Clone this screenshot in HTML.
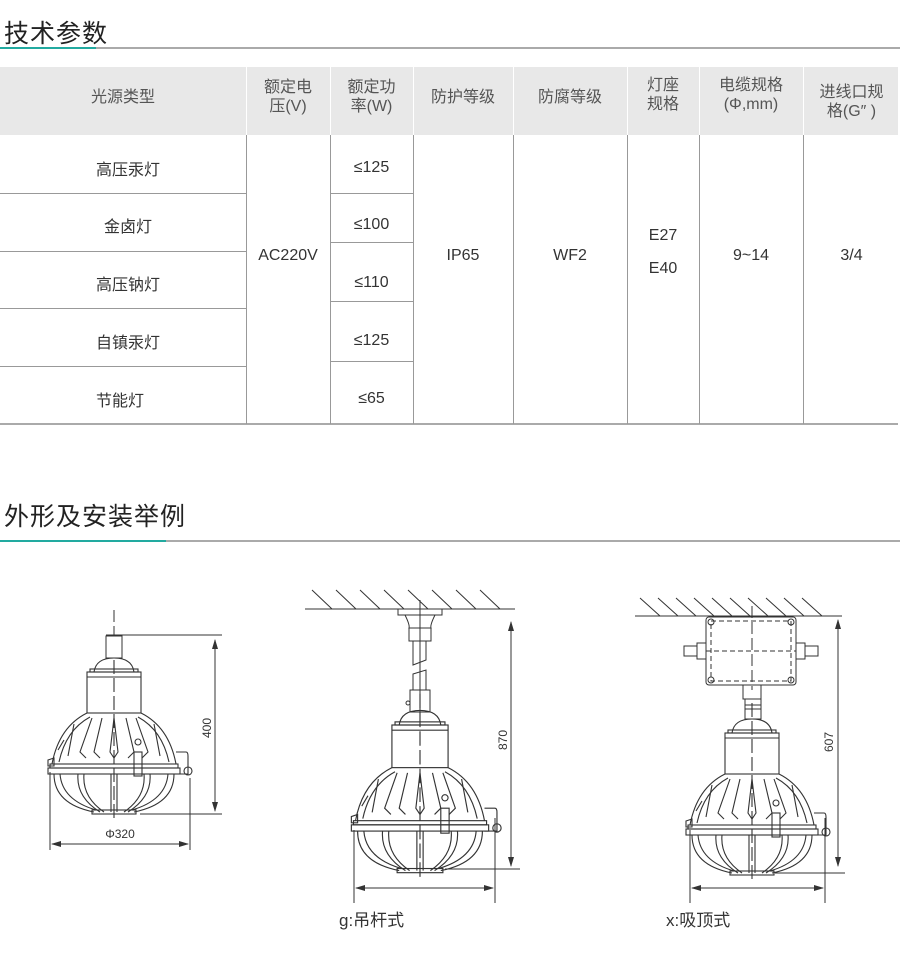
<!DOCTYPE html>
<html><head><meta charset="utf-8">
<style>
body{margin:0;background:#fff;width:900px;height:954px;overflow:hidden;position:relative;font-family:"Liberation Sans","Noto Sans CJK SC",sans-serif;color:#333}
.t{position:absolute;left:4px;font-size:25px;color:#222;letter-spacing:1px}
.ln{position:absolute;left:0;width:900px;height:2px;background:#aaa}
.ln i{position:absolute;left:0;top:0;height:2px;background:#22aaa0}
.c{position:absolute;display:flex;align-items:center;justify-content:center;text-align:center;font-size:16px;color:#333;line-height:19px}
.h{color:#555;font-size:16px}
.v{position:absolute;width:1px;background:#999}
.hz{position:absolute;height:1px;background:#999}
</style></head><body>
<div class="t" style="top:14px">技术参数</div>
<div class="ln" style="top:47px"><i style="width:96px"></i></div>
<div style="position:absolute;left:0;top:67px;width:898px;height:68px;background:#e8e8e8"></div>
<div style="position:absolute;left:0;top:423px;width:898px;height:2px;background:#aaa"></div>
<!-- header cells -->
<div class="c h" style="left:0;top:67px;width:246px;height:60px">光源类型</div>
<div class="c h" style="left:246px;top:67px;width:84px;height:60px">额定电<br>压(V)</div>
<div class="c h" style="left:330px;top:67px;width:83px;height:60px">额定功<br>率(W)</div>
<div class="c h" style="left:413px;top:67px;width:100px;height:60px">防护等级</div>
<div class="c h" style="left:513px;top:67px;width:114px;height:60px">防腐等级</div>
<div class="c h" style="left:627px;top:67px;width:72px;height:55px">灯座<br>规格</div>
<div class="c h" style="left:699px;top:67px;width:104px;height:55px">电缆规格<br>(Φ,mm)</div>
<div class="c h" style="left:803px;top:67px;width:97px;height:70px">进线口规<br>格(G″ )</div>
<!-- vertical lines -->
<div class="v" style="left:246px;top:67px;height:357px;background:#fff;width:1px"></div>
<div class="v" style="left:246px;top:135px;height:289px"></div>
<div class="v" style="left:330px;top:135px;height:289px"></div>
<div class="v" style="left:413px;top:135px;height:289px"></div>
<div class="v" style="left:513px;top:135px;height:289px"></div>
<div class="v" style="left:627px;top:135px;height:289px"></div>
<div class="v" style="left:699px;top:135px;height:289px"></div>
<div class="v" style="left:803px;top:135px;height:289px"></div>
<div class="v" style="left:246px;top:67px;height:68px;background:#fff"></div>
<div class="v" style="left:330px;top:67px;height:68px;background:#fff"></div>
<div class="v" style="left:413px;top:67px;height:68px;background:#fff"></div>
<div class="v" style="left:513px;top:67px;height:68px;background:#fff"></div>
<div class="v" style="left:627px;top:67px;height:68px;background:#fff"></div>
<div class="v" style="left:699px;top:67px;height:68px;background:#fff"></div>
<div class="v" style="left:803px;top:67px;height:68px;background:#fff"></div>
<!-- horizontal lines -->
<div class="hz" style="left:0;top:193px;width:246px"></div>
<div class="hz" style="left:0;top:251px;width:246px"></div>
<div class="hz" style="left:0;top:308px;width:246px"></div>
<div class="hz" style="left:0;top:366px;width:246px"></div>
<div class="hz" style="left:330px;top:193px;width:83px"></div>
<div class="hz" style="left:330px;top:242px;width:83px"></div>
<div class="hz" style="left:330px;top:301px;width:83px"></div>
<div class="hz" style="left:330px;top:361px;width:83px"></div>
<!-- body cells -->
<div class="c" style="left:0;top:155px;width:256px;height:30px">高压汞灯</div>
<div class="c" style="left:0;top:212px;width:256px;height:30px">金卤灯</div>
<div class="c" style="left:0;top:270px;width:256px;height:30px">高压钠灯</div>
<div class="c" style="left:0;top:328px;width:256px;height:30px">自镇汞灯</div>
<div class="c" style="left:0;top:386px;width:240px;height:30px">节能灯</div>
<div class="c" style="left:246px;top:240px;width:84px;height:30px">AC220V</div>
<div class="c" style="left:330px;top:152px;width:83px;height:30px">≤125</div>
<div class="c" style="left:330px;top:209px;width:83px;height:30px">≤100</div>
<div class="c" style="left:330px;top:267px;width:83px;height:30px">≤110</div>
<div class="c" style="left:330px;top:325px;width:83px;height:30px">≤125</div>
<div class="c" style="left:330px;top:383px;width:83px;height:30px">≤65</div>
<div class="c" style="left:413px;top:240px;width:100px;height:30px">IP65</div>
<div class="c" style="left:513px;top:240px;width:114px;height:30px">WF2</div>
<div class="c" style="left:627px;top:222px;width:72px;height:60px;line-height:33px">E27<br>E40</div>
<div class="c" style="left:699px;top:240px;width:104px;height:30px">9~14</div>
<div class="c" style="left:803px;top:240px;width:97px;height:30px">3/4</div>

<div class="t" style="top:497px">外形及安装举例</div>
<div class="ln" style="top:540px"><i style="width:166px"></i></div>

<svg width="900" height="954" style="position:absolute;left:0;top:0" xmlns="http://www.w3.org/2000/svg">
<defs>
<marker id="a" markerWidth="10" markerHeight="6" refX="9" refY="3" orient="auto-start-reverse" markerUnits="userSpaceOnUse"><path d="M0,0 L10,3 L0,6 z" fill="#333"/></marker>
<g id="lamp" fill="none" stroke="#333" stroke-width="1.1">
  <path d="M-20,0 Q-18,-14 0,-14 Q18,-14 20,0"/>
  <rect x="-24" y="-3" width="48" height="3"/>
  <rect x="-27" y="0" width="54" height="41"/>
  <line x1="-27" y1="5" x2="27" y2="5"/>
  <path d="M-27,41 Q-55,55 -62,92 M27,41 Q55,55 62,92"/>
  <path d="M-24,45 Q-48,58 -55,90 M24,45 Q48,58 55,90"/>
  <path d="M-22,46 L-34,80 L-28,86 M-12,46 L-20,80 L-14,86 M0,46 L-4,80 L0,86 L4,80 L0,46 M12,46 L20,80 L14,86 M22,46 L34,80 L28,86"/>
  <path d="M-40,52 L-46,84 M40,52 L46,84"/>
  <rect x="-64" y="92" width="128" height="4"/>
  <rect x="-66" y="96" width="132" height="6"/>
  <path d="M62,80 L72,80 Q74,80 74,84 L74,102 L62,102"/>
  <circle cx="74" cy="99" r="4"/>
  <rect x="20" y="80" width="8" height="24"/>
  <circle cx="24" cy="70" r="3"/>
  <path d="M-56,78 L-50,68 M-66,88 L-60,86 L-60,94 L-66,94 z"/>
  <path d="M-60,102 Q-60,132 -20,140 M60,102 Q60,132 20,140"/>
  <path d="M-54,102 Q-52,128 -18,138 M54,102 Q52,128 18,138"/>
  <path d="M-36,102 Q-38,125 -14,140 M-30,102 Q-32,125 -10,140 M36,102 Q38,125 14,140 M30,102 Q32,125 10,140"/>
  <path d="M-3,102 L-3,140 M3,102 L3,140"/>
  <rect x="-22" y="138" width="44" height="4"/>
  <line x1="0" y1="-30" x2="0" y2="150" stroke-dasharray="14,4"/>
</g>
</defs>
<g stroke="#333" fill="none" stroke-width="1">
<!-- lamp 1 -->
<use href="#lamp" transform="translate(114,672)"/>
<rect x="106" y="636" width="16" height="22" fill="#fff"/>
<line x1="114" y1="610" x2="114" y2="636" stroke-dasharray="12,4"/>
<line x1="106" y1="635" x2="222" y2="635"/>
<line x1="215" y1="640" x2="215" y2="811" marker-start="url(#a)" marker-end="url(#a)"/>
<line x1="140" y1="814" x2="222" y2="814"/>
<line x1="50" y1="772" x2="50" y2="850"/>
<line x1="190" y1="778" x2="190" y2="850"/>
<line x1="52" y1="844" x2="188" y2="844" marker-start="url(#a)" marker-end="url(#a)"/>
<!-- lamp 2 -->
<line x1="305" y1="609" x2="515" y2="609"/>
<path d="M312,590 L332,609 M336,590 L356,609 M360,590 L380,609 M384,590 L404,609 M408,590 L428,609 M432,590 L452,609 M456,590 L476,609 M480,590 L500,609"/>
<rect x="398" y="609" width="44" height="6" fill="#fff"/>
<path d="M405,615 Q410,625 409,628 L431,628 Q430,625 435,615"/>
<rect x="409" y="628" width="22" height="13"/>
<path d="M413,641 L413,665 L426,660 L426,641"/>
<path d="M413,674 L426,670 L426,690 L413,690 z"/>
<rect x="410" y="690" width="20" height="22"/>
<circle cx="408" cy="703" r="2"/>
<use href="#lamp" transform="translate(420,725) scale(1.04)"/>
<line x1="420" y1="600" x2="420" y2="720"/>
<line x1="511" y1="622" x2="511" y2="866" marker-start="url(#a)" marker-end="url(#a)"/>
<line x1="445" y1="869" x2="520" y2="869"/>
<line x1="354" y1="830" x2="354" y2="903"/>
<line x1="495" y1="818" x2="495" y2="903"/>
<line x1="356" y1="888" x2="493" y2="888" marker-start="url(#a)" marker-end="url(#a)"/>
<!-- lamp 3 -->
<line x1="635" y1="616" x2="842" y2="616"/>
<path d="M640,598 L660,616 M658,598 L678,616 M676,598 L696,616 M694,598 L714,616 M712,598 L732,616 M730,598 L750,616 M748,598 L768,616 M766,598 L786,616 M784,598 L804,616 M802,598 L822,616"/>
<rect x="706" y="617" width="90" height="68" rx="3" fill="#fff"/>
<rect x="711" y="621" width="80" height="60" stroke-dasharray="5,3"/>
<line x1="706" y1="651" x2="796" y2="651" stroke-dasharray="5,3"/>
<circle cx="711" cy="622" r="3"/><circle cx="791" cy="622" r="3"/><circle cx="711" cy="680" r="3"/><circle cx="791" cy="680" r="3"/>
<rect x="697" y="643" width="9" height="16"/><rect x="684" y="646" width="13" height="10"/>
<rect x="796" y="643" width="9" height="16"/><rect x="805" y="646" width="13" height="10"/>
<line x1="752" y1="606" x2="752" y2="690" stroke-dasharray="12,4"/>
<rect x="743" y="685" width="18" height="14"/>
<rect x="745" y="699" width="16" height="20"/>
<line x1="745" y1="705" x2="761" y2="705"/><line x1="745" y1="709" x2="761" y2="709"/>
<use href="#lamp" transform="translate(752,733)"/>
<line x1="838" y1="620" x2="838" y2="866" marker-start="url(#a)" marker-end="url(#a)"/>
<line x1="775" y1="873" x2="845" y2="873"/>
<line x1="690" y1="830" x2="690" y2="903"/>
<line x1="825" y1="818" x2="825" y2="903"/>
<line x1="692" y1="888" x2="823" y2="888" marker-start="url(#a)" marker-end="url(#a)"/>
</g>
<g font-family="Liberation Sans,sans-serif" font-size="12" fill="#333">
<text transform="translate(211,728) rotate(-90)" text-anchor="middle">400</text>
<text x="120" y="838" text-anchor="middle">Φ320</text>
<text transform="translate(507,740) rotate(-90)" text-anchor="middle">870</text>
<text transform="translate(833,742) rotate(-90)" text-anchor="middle">607</text>
</g>
<g font-family="Liberation Sans,Noto Sans CJK SC,sans-serif" font-size="17" fill="#333">
<text x="339" y="926">g:吊杆式</text>
<text x="666" y="926">x:吸顶式</text>
</g>
</svg>
</body></html>
